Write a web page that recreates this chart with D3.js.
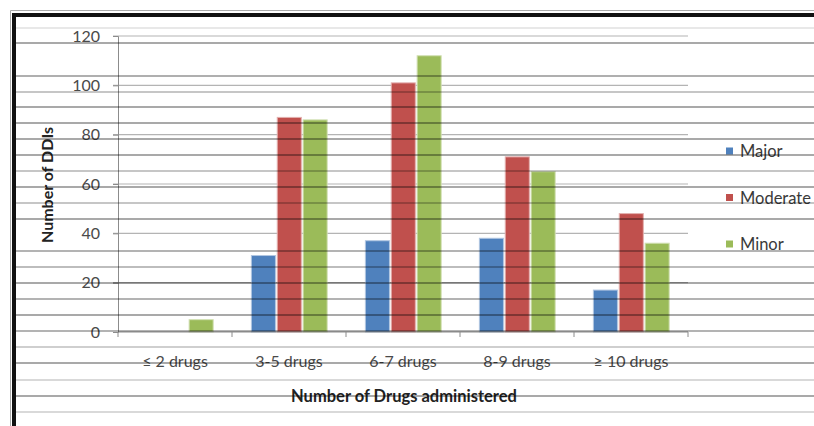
<!DOCTYPE html>
<html>
<head>
<meta charset="utf-8">
<script src="https://cdn.jsdelivr.net/npm/d3@7"></script>
<style>
  html, body { margin: 0; padding: 0; background: #fff; overflow: hidden; }
  svg { display: block; }
  text { font-family: "Lato", "Open Sans", "Liberation Sans", sans-serif; }
</style>
</head>
<body>
<svg id="chart" width="814" height="426"></svg>
<script>
// Drug-drug interactions by number of drugs administered
const categories = ["\u2264 2 drugs", "3-5 drugs", "6-7 drugs", "8-9 drugs", "\u2265 10 drugs"];
const series = ["Major", "Moderate", "Minor"];
const major    = [0, 31, 37, 38, 17];
const moderate = [0, 87, 101, 71, 48];
const minor    = [5, 86, 112, 65, 36];
const yTicks   = [0, 20, 40, 60, 80, 100, 120];
const colors   = ["#4F81BD", "#C0504D", "#9BBB59"];

// worksheet row lines behind/over the embedded chart (y position, strength)
const sheetRows = [
  [28, 0.12], [43, 0.45], [76, 0.42], [92, 0.3], [107, 0.45], [123, 0.45],
  [139, 0.45], [155, 0.45], [171, 0.3], [187, 0.45], [203, 0.3], [219, 0.45],
  [251, 0.4], [267, 0.35], [283, 0.45], [299, 0.4], [315, 0.45], [331, 0.4],
  [347, 0.25], [363, 0.45], [380, 0.2], [396, 0.45], [412, 0.2]
];

const valuesBySeries = [major, moderate, minor];
const table = categories.map((c, i) => ({
  category: c,
  values: series.map((s, j) => ({ series: s, value: valuesBySeries[j][i], color: colors[j] }))
}));

const svg = d3.select("#chart");
const W = 814, H = 426;
const plot = { left: 118, right: 688, top: 36, bottom: 332 };

const x0 = d3.scaleBand().domain(categories).range([plot.left, plot.right]).padding(0);
const bw = x0.bandwidth();
const x1 = d3.scaleBand().domain(series).range([bw * 0.17, bw * 0.835]).paddingInner(0.07);
const y = d3.scaleLinear().domain([0, 120]).range([plot.bottom, plot.top]);

// chart gridlines
svg.append("g")
  .selectAll("line")
  .data(yTicks.filter(t => t > 0))
  .join("line")
  .attr("x1", plot.left - 5).attr("x2", plot.right)
  .attr("y1", d => y(d)).attr("y2", d => y(d))
  .attr("stroke", "#b4b4b4").attr("stroke-width", 1.2);

// y axis
const yAxis = svg.append("g")
  .attr("transform", `translate(${plot.left},0)`)
  .call(d3.axisLeft(y).tickValues(yTicks).tickSize(5).tickPadding(13));
yAxis.select(".domain").attr("stroke", "#8c8c8c");
yAxis.selectAll(".tick line").attr("stroke", "#8c8c8c");
yAxis.selectAll(".tick text")
  .attr("fill", "#4a4a4a")
  .style("font-size", "16px")
  .style("font-family", "Lato, 'Open Sans', sans-serif");

// bars
const groups = svg.append("g")
  .selectAll("g")
  .data(table)
  .join("g")
  .attr("transform", d => `translate(${x0(d.category)},0)`);

groups.selectAll("rect")
  .data(d => d.values)
  .join("rect")
  .attr("x", d => x1(d.series))
  .attr("width", x1.bandwidth())
  .attr("y", d => y(d.value))
  .attr("height", d => y(0) - y(d.value))
  .attr("fill", d => d.color)
  .attr("stroke", d => d3.interpolateRgb(d.color, "#fff")(0.55))
  .attr("stroke-width", 1);

// x axis line and category boundary ticks
svg.append("line")
  .attr("x1", plot.left).attr("x2", plot.right)
  .attr("y1", y(0)).attr("y2", y(0))
  .attr("stroke", "#8c8c8c").attr("stroke-width", 1.2);

const bounds = categories.map(c => x0(c) + bw).concat([plot.left]);
svg.append("g")
  .selectAll("line")
  .data(bounds)
  .join("line")
  .attr("x1", d => d).attr("x2", d => d)
  .attr("y1", y(0)).attr("y2", y(0) + 5)
  .attr("stroke", "#8c8c8c");

// category labels
svg.append("g")
  .selectAll("text")
  .data(categories)
  .join("text")
  .attr("x", d => x0(d) + bw / 2)
  .attr("y", 367)
  .attr("text-anchor", "middle")
  .attr("fill", "#4a4a4a")
  .style("font-size", "16px")
  .text(d => d);

// axis titles
svg.append("text")
  .attr("x", 404).attr("y", 402)
  .attr("text-anchor", "middle")
  .attr("fill", "#222")
  .style("font-size", "16.5px")
  .style("font-weight", "bold")
  .text("Number of Drugs administered");

svg.append("text")
  .attr("transform", "translate(53,185) rotate(-90)")
  .attr("text-anchor", "middle")
  .attr("fill", "#222")
  .style("font-size", "16px")
  .style("font-weight", "bold")
  .text("Number of DDIs");

// legend
const legend = svg.append("g")
  .selectAll("g")
  .data(series)
  .join("g")
  .attr("transform", (d, i) => `translate(726,${151 + i * 46.5})`);
legend.append("rect")
  .attr("x", 0).attr("y", -3.5)
  .attr("width", 7).attr("height", 7)
  .attr("fill", (d, i) => colors[i]);
legend.append("text")
  .attr("x", 14).attr("y", 6)
  .attr("fill", "#3a3a3a")
  .style("font-size", "16.5px")
  .text(d => d);

// worksheet row lines across the whole sheet
svg.append("g")
  .selectAll("line")
  .data(sheetRows)
  .join("line")
  .attr("x1", 16).attr("x2", W)
  .attr("y1", d => d[0]).attr("y2", d => d[0])
  .attr("stroke", "#000")
  .attr("stroke-opacity", d => d[1])
  .attr("stroke-width", 1.3);

// chart frame (top and left edges visible)
svg.append("path")
  .attr("d", `M10.5,${H} V10.5 H${W}`)
  .attr("fill", "none").attr("stroke", "#aaa").attr("stroke-width", 1);
svg.append("path")
  .attr("d", `M14,${H} V15 H${W}`)
  .attr("fill", "none").attr("stroke", "#111").attr("stroke-width", 4);
</script>
</body>
</html>
